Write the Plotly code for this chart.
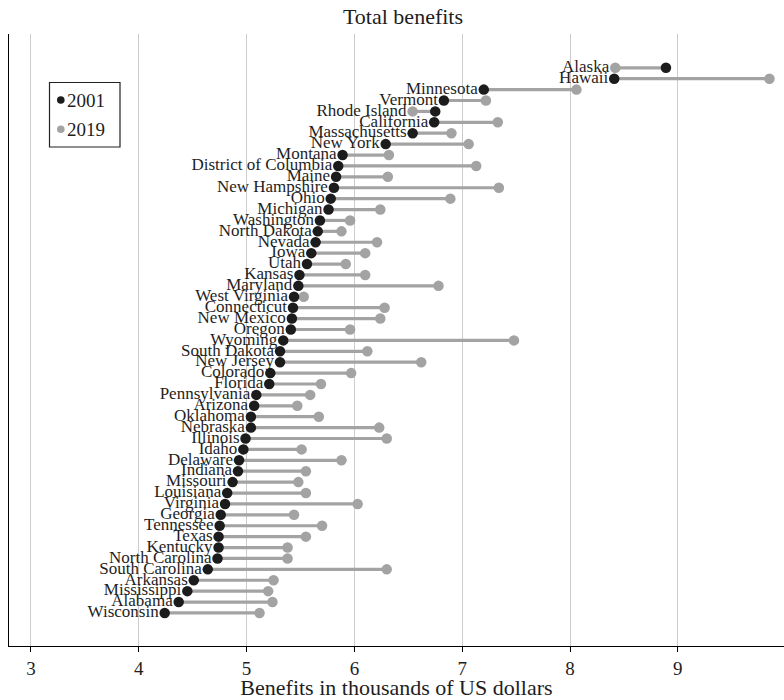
import plotly.graph_objects as go

states = ["Alaska", "Hawaii", "Minnesota", "Vermont", "Rhode Island", "California",
          "Massachusetts", "New York", "Montana", "District of Columbia", "Maine",
          "New Hampshire", "Ohio", "Michigan", "Washington", "North Dakota", "Nevada",
          "Iowa", "Utah", "Kansas", "Maryland", "West Virginia", "Connecticut",
          "New Mexico", "Oregon", "Wyoming", "South Dakota", "New Jersey", "Colorado",
          "Florida", "Pennsylvania", "Arizona", "Oklahoma", "Nebraska", "Illinois",
          "Idaho", "Delaware", "Indiana", "Missouri", "Louisiana", "Virginia",
          "Georgia", "Tennessee", "Texas", "Kentucky", "North Carolina",
          "South Carolina", "Arkansas", "Mississippi", "Alabama", "Wisconsin"]

v2001 = [8.89, 8.41, 7.20, 6.83, 6.75, 6.74, 6.54, 6.29, 5.89, 5.85, 5.83,
         5.81, 5.78, 5.76, 5.68, 5.66, 5.64, 5.60, 5.56, 5.49, 5.48, 5.44, 5.43,
         5.42, 5.41, 5.34, 5.31, 5.31, 5.22, 5.21, 5.09, 5.07, 5.04, 5.04, 4.99,
         4.97, 4.93, 4.92, 4.87, 4.82, 4.80, 4.76, 4.75, 4.74, 4.74, 4.73,
         4.64, 4.51, 4.45, 4.37, 4.24]

v2019 = [8.42, 9.85, 8.06, 7.22, 6.54, 7.33, 6.90, 7.06, 6.32, 7.13, 6.31,
         7.34, 6.89, 6.24, 5.96, 5.88, 6.21, 6.10, 5.92, 6.10, 6.78, 5.53, 6.28,
         6.24, 5.96, 7.48, 6.12, 6.62, 5.97, 5.69, 5.59, 5.47, 5.67, 6.23, 6.30,
         5.51, 5.88, 5.55, 5.48, 5.55, 6.03, 5.44, 5.70, 5.55, 5.38, 5.38,
         6.30, 5.25, 5.20, 5.24, 5.12]

x_ticks = [3, 4, 5, 6, 7, 8, 9]
series_names = ["2001", "2019"]

FONT = "Liberation Serif"
DARK = "#1c1c1c"
GREY = "#a3a3a3"
TXT = "#1e1e1e"
series_colors = [DARK, GREY]

W, H = 784, 700
ML, MR, MT, MB = 9, 0, 34, 54
PW, PH = W - ML - MR, H - MT - MB


def px2paper(px, py):
    return (px - ML) / PW, 1 - (py - MT) / PH


n = len(states)
ypos = [n - 1 - i for i in range(n)]

lx, ly = [], []
for a, b, y in zip(v2001, v2019, ypos):
    lx += [a, b, None]
    ly += [y, y, None]

fig = go.Figure()
fig.add_trace(go.Scatter(x=lx, y=ly, mode="lines",
                         line=dict(color=GREY, width=3.2),
                         showlegend=False, hoverinfo="skip"))
fig.add_trace(go.Scatter(x=v2019, y=ypos, mode="markers", name="2019",
                         marker=dict(color=GREY, size=10.5), showlegend=False))
fig.add_trace(go.Scatter(x=v2001, y=ypos, mode="markers", name="2001",
                         marker=dict(color=DARK, size=10.5), showlegend=False))
fig.add_trace(go.Scatter(x=[min(a, b) for a, b in zip(v2001, v2019)], y=ypos,
                         mode="markers+text", text=states,
                         textposition="middle left",
                         textfont=dict(family=FONT, size=17, color=TXT),
                         marker=dict(size=8, color="rgba(0,0,0,0)"),
                         showlegend=False, hoverinfo="skip"))

# manual legend box
x0, y0 = px2paper(49.5, 82.5)
x1, y1 = px2paper(120, 147)
shapes = [dict(type="rect", xref="paper", yref="paper", x0=x0, x1=x1, y0=y1, y1=y0,
               line=dict(color="#222222", width=1.2), fillcolor="white", layer="above")]
annotations = []
for k, (name, col) in enumerate(zip(series_names, series_colors)):
    cy = 100 + k * 29.3
    ax0, ay0 = px2paper(60.8 - 3.8, cy - 3.8)
    ax1, ay1 = px2paper(60.8 + 3.8, cy + 3.8)
    shapes.append(dict(type="circle", xref="paper", yref="paper",
                       x0=ax0, x1=ax1, y0=ay1, y1=ay0,
                       line=dict(width=0), fillcolor=col, layer="above"))
    tx, ty = px2paper(65, cy)
    annotations.append(dict(text=name, xref="paper", yref="paper", x=tx, y=ty,
                            xanchor="left", yanchor="middle", showarrow=False,
                            font=dict(family=FONT, size=19, color=TXT)))

fig.update_layout(
    width=W, height=H,
    margin=dict(l=ML, r=MR, t=MT, b=MB),
    paper_bgcolor="white", plot_bgcolor="white",
    font=dict(family=FONT, color=TXT),
    title=dict(text="Total benefits", x=403 / W, xanchor="center",
               y=1 - 16 / H, yanchor="middle",
               font=dict(family=FONT, size=22, color=TXT)),
    showlegend=False,
    shapes=shapes,
    annotations=annotations,
)
fig.update_xaxes(range=[2.796, 9.985], tickvals=x_ticks,
                 showgrid=True, gridcolor="#cccccc", gridwidth=1,
                 showline=True, linecolor="black", linewidth=1.2,
                 ticks="outside", ticklen=5, tickcolor="black",
                 tickfont=dict(family=FONT, size=19, color=TXT),
                 title=dict(text="Benefits in thousands of US dollars",
                            font=dict(family=FONT, size=22, color=TXT),
                            standoff=2),
                 zeroline=False)
fig.update_yaxes(range=[-3.03, 53.1], showgrid=False, showticklabels=False,
                 showline=True, linecolor="black", linewidth=1.2,
                 zeroline=False, ticks="")

fig.write_html("out.html", config={"displayModeBar": False},
               post_script="document.body.style.margin='0';document.body.style.overflow='hidden';")
